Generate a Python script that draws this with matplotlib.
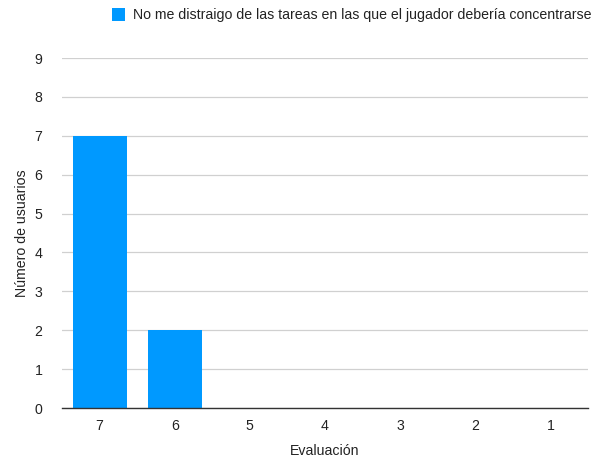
import matplotlib
matplotlib.use("Agg")
import matplotlib.pyplot as plt
from matplotlib.patches import Rectangle

categories = ["7", "6", "5", "4", "3", "2", "1"]
values = [7, 2, 0, 0, 0, 0, 0]
series_name = "No me distraigo de las tareas en las que el jugador debería concentrarse"
y_ticks = list(range(0, 10))

plt.rcParams["font.family"] = ["Liberation Sans", "DejaVu Sans"]

fig = plt.figure(figsize=(6.0, 4.58), dpi=100)
ax = fig.add_axes([62 / 600, 50 / 458, 526 / 600, 350 / 458])

x = list(range(len(categories)))
ax.bar(x, values, width=0.72, color="#0099FF", zorder=3)

ax.set_xlim(-0.5, len(categories) - 0.5)
ax.set_ylim(0, 9)
ax.set_yticks(y_ticks)
ax.set_xticks(x)
ax.set_xticklabels(categories)
ax.tick_params(axis="both", length=0, labelsize=10.2, colors="#222222")
ax.tick_params(axis="y", pad=14)
ax.tick_params(axis="x", pad=8)

ax.grid(axis="y", color="#d0d0d0", linewidth=0.9, zorder=0)
for side in ("top", "right", "left"):
    ax.spines[side].set_visible(False)
ax.spines["bottom"].set_color("#333333")
ax.spines["bottom"].set_linewidth(1.0)
ax.spines["bottom"].set_zorder(4)

ax.set_xlabel("Evaluación", fontsize=10.2, labelpad=8, color="#222222")
ax.set_ylabel("Número de usuarios", fontsize=10.2, labelpad=4, color="#222222")

# legend at the top
fig.patches.append(Rectangle((112 / 600, 1 - 21 / 458), 13 / 600, 13 / 458,
                             transform=fig.transFigure, facecolor="#0099FF",
                             edgecolor="none"))
fig.text(133 / 600, 1 - 15 / 458, series_name, fontsize=10.2, va="center",
         ha="left", color="#222222")

fig.savefig("out.png", dpi=100)
